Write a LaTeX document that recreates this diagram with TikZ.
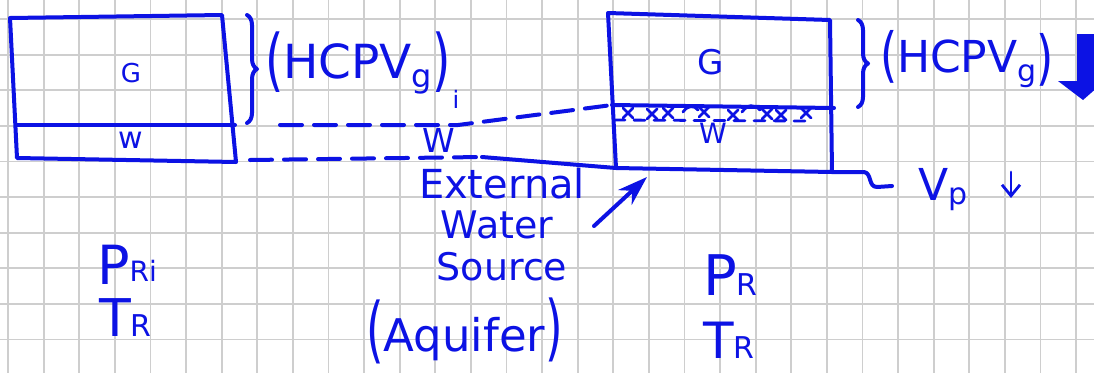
\documentclass[tikz,border=0pt]{standalone}
\usepackage{fontspec}
\setmainfont{DejaVu Sans}
\usetikzlibrary{decorations.pathreplacing,arrows.meta}
\definecolor{ink}{RGB}{12,18,228}
\definecolor{gridgray}{RGB}{206,206,206}
\newcommand{\fsz}[1]{\fontsize{#1}{#1}\selectfont}
% tall, thin-stroked parentheses
\newcommand{\tallL}[2]{\raisebox{#2}{\scalebox{1}[#1]{(}}}
\newcommand{\tallR}[2]{\raisebox{#2}{\scalebox{1}[#1]{)}}}

\begin{document}
\begin{tikzpicture}[x=1pt,y=-1pt,
  pen/.style={draw=ink, line width=4pt, line cap=round, line join=round},
  thinpen/.style={draw=ink, line width=2.8pt, line cap=round, line join=round},
  dashpen/.style={pen, dash pattern=on 22pt off 12pt},
  lbl/.style={text=ink, inner sep=0pt, outer sep=0pt},
  hbrace/.style={pen, decorate, decoration={brace, amplitude=10pt}}]
\clip (0,0) rectangle (1094,373);
\fill[white] (0,0) rectangle (1094,373);

% squared paper
\foreach \i in {0,...,30}
  \draw[gridgray, line width=1.8pt] ({8+35.6*\i},0) -- ({8+35.6*\i},373);
\foreach \j in {0,...,10}
  \draw[gridgray, line width=1.8pt] (0,{19+35.6*\j}) -- (1094,{19+35.6*\j});

% initial reservoir: gas cap over water
\coordinate (Ltl) at (10,18);
\coordinate (Ltr) at (222,15);
\coordinate (Lbl) at (17,158);
\coordinate (Lbr) at (236,162);
\coordinate (Lml) at (16,125);
\coordinate (Lmr) at (235,125);
\draw[pen] (Lbl) -- (Ltl) -- (Ltr) -- (Lbr) -- cycle;
\draw[pen] (Lml) -- (Lmr);

% later reservoir: water has encroached into the gas zone
\coordinate (Rtl) at (608,13);
\coordinate (Rtr) at (830,20);
\coordinate (Rbl) at (616,168);
\coordinate (Rbr) at (832,172);
\coordinate (Rml) at (612,105);
\coordinate (Rmr) at (834,108);
\draw[pen] (Rbl) -- (Rtl) -- (Rtr) -- (Rbr) -- cycle;
\draw[pen] (Rml) -- (Rmr);
% trapped-gas band
\foreach \cx/\cy in {628/113,652/114,668/113,704/112,733/115,767/114,781/115,806/113}
  \draw[thinpen] ({\cx-5},{\cy-5}) -- ({\cx+5},{\cy+5}) ({\cx-5},{\cy+5}) -- ({\cx+5},{\cy-5});
\draw[thinpen, dash pattern=on 11pt off 9pt] (614,120) -- (805,121);
\draw[thinpen] (742,112) .. controls (748,104) and (754,104) .. (760,110);
\draw[thinpen] (683,112) .. controls (688,105) and (694,105) .. (698,110);

% contact levels carried across
\draw[dashpen] (280,125) -- (458,125) -- (Rml);
\draw[dashpen] (250,160) -- (482,157);
\draw[pen] (482,157) -- (Rbl);

% braces for the hydrocarbon pore volume
\draw[hbrace] (247,15) -- (247,123);
\draw[hbrace] (858,20) -- (858,107);

% labels
\node[lbl, anchor=base, font=\fsz{26}] (gL) at (131,82) {G};
\node[lbl, anchor=base, font=\fsz{30}] (wL) at (131,148) {w};
\node[lbl, anchor=base west, font=\fsz{47}] (hcL) at (265,78)
  {\tallL{1.45}{-5pt}HCPV\raisebox{-9pt}{\fsz{32}g}\tallR{1.45}{-5pt}};
\node[lbl, anchor=base, font=\fsz{24}] (iL) at (456,108) {i};
\node[lbl, anchor=base, font=\fsz{33}] (wMid) at (439,152) {W};
\node[lbl, anchor=base, font=\fsz{34}] (gR) at (711,74) {G};
\node[lbl, anchor=base, font=\fsz{28}] (wR) at (713,143) {W};
\node[lbl, anchor=base west, font=\fsz{44}] (hcR) at (880,72)
  {\tallL{1.35}{-3pt}HCPV\raisebox{-9pt}{\fsz{30}g}\tallR{1.35}{-6pt}};
\node[lbl, anchor=base west, font=\fsz{44}] (vp) at (918,200) {V\raisebox{-4pt}{\fsz{30}p}};
\node[lbl, anchor=base, font=\fsz{40}] (ext) at (502,198) {External};
\node[lbl, anchor=base, font=\fsz{38}] (water) at (497,238) {Water};
\node[lbl, anchor=base, font=\fsz{38}] (source) at (502,280) {Source};
\node[lbl, anchor=base west, font=\fsz{45}] (aquifer) at (366,351)
  {\tallL{1.6}{-3pt}Aquifer\tallR{1.6}{-1pt}};
\node[lbl, anchor=base west] (pri) at (97,284) {{\fsz{54}P}\raisebox{3pt}{\fsz{28}Ri}};
\node[lbl, anchor=base west] (trL) at (99,336) {{\fsz{52}T}{\fsz{30}R}};
\node[lbl, anchor=base west] (pr) at (703,295) {{\fsz{56}P}{\fsz{30}R}};
\node[lbl, anchor=base west] (trR) at (703,358) {{\fsz{50}T}{\fsz{30}R}};

% pore volume lead-out and its decrease
\draw[pen] (Rbr) -- (864,172) .. controls (872,173) and (868,187) .. (877,187) -- (892,186);
\coordinate (vpTop) at (1011,172);
\coordinate (vpTip) at (1011,198);
\draw[thinpen, -{Straight Barb[length=11pt,width=18pt]}] (vpTop) -- (vpTip);

% water influx from the aquifer
\coordinate (aqTail) at (594,226);
\coordinate (aqHead) at (647,177);
\draw[pen, -{Stealth[length=30pt,width=20pt]}] (aqTail) -- (aqHead);

% heavy arrow: HCPV shrinking
\fill[ink] (1077,34) -- (1096,34) -- (1096,78) -- (1108,78) -- (1083,100) -- (1058,81) -- (1077,81) -- cycle;
\end{tikzpicture}
\end{document}
